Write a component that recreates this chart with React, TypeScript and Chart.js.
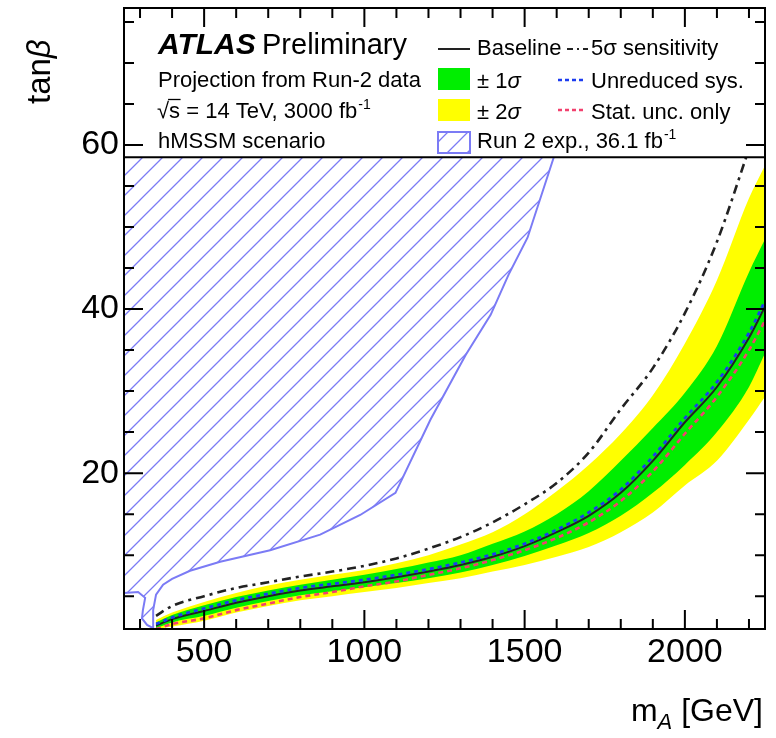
import React, { useEffect, useRef } from 'react';
import { Chart, registerables } from 'chart.js';

Chart.register(...registerables);

// ---------------- data ----------------
const MA = [350, 400, 500, 600, 700, 800, 900, 1000, 1100, 1200, 1300, 1400, 1500, 1600, 1700, 1800, 1900, 2000, 2100, 2200, 2250];
const BASELINE = [1.4, 2.2, 3.2, 4.2, 5.0, 5.7, 6.2, 6.7, 7.3, 8.0, 8.8, 9.8, 11.1, 12.8, 14.8, 17.6, 21.5, 26.2, 30.5, 36.5, 40.3];
const UNREDUCED_SYS = [1.6, 2.4, 3.5, 4.5, 5.3, 6.0, 6.5, 7.0, 7.6, 8.3, 9.1, 10.1, 11.4, 13.1, 15.2, 18.0, 22.0, 26.7, 31.1, 37.1, 41.0];
const STAT_ONLY = [1.0, 1.6, 2.3, 3.3, 4.1, 4.9, 5.5, 6.2, 6.8, 7.6, 8.4, 9.4, 10.6, 12.1, 14.0, 16.6, 20.2, 24.8, 29.3, 35.0, 38.6];
const SIGMA1_UP = [1.8, 2.7, 3.9, 4.9, 5.7, 6.4, 7.0, 7.6, 8.3, 9.1, 10.0, 11.4, 12.9, 15.0, 17.8, 21.5, 25.5, 29.8, 35.5, 44.5, 48.5];
const SIGMA1_DN = [1.1, 1.8, 2.6, 3.6, 4.4, 5.1, 5.6, 6.1, 6.6, 7.2, 7.9, 8.8, 9.9, 11.2, 12.7, 14.8, 17.6, 21.0, 25.0, 30.5, 34.6];
const SIGMA2_UP = [2.1, 3.0, 4.3, 5.4, 6.3, 7.0, 7.6, 8.2, 9.0, 10.0, 11.3, 12.8, 15.0, 17.8, 21.0, 24.8, 29.5, 35.8, 43.5, 53.5, 57.5];
const SIGMA2_DN = [1.0, 1.3, 2.0, 3.0, 3.8, 4.5, 5.0, 5.5, 6.0, 6.6, 7.2, 8.0, 8.8, 9.8, 11.0, 12.8, 15.2, 18.5, 21.5, 26.5, 29.3];

const FIVE_SIGMA_MA = [350, 400, 500, 600, 700, 800, 900, 1000, 1100, 1200, 1300, 1400, 1500, 1600, 1700, 1800, 1900, 2000, 2100, 2200];
const FIVE_SIGMA = [2.6, 3.8, 5.0, 6.0, 6.7, 7.4, 8.0, 8.7, 9.6, 10.8, 12.2, 14.0, 16.2, 18.8, 22.5, 27.8, 32.8, 39.5, 48.2, 59.5];

// Run 2 expected exclusion contour (36.1 fb-1), from the legend edge down to the left axis
const RUN2_MA = [1591, 1509, 1450, 1394, 1316, 1206, 1097, 987, 862, 706, 550, 456, 400, 372, 350, 341, 341, 322, 306, 309, 316, 294, 250];
const RUN2_TANB = [58.5, 48.7, 44.2, 39.3, 34.4, 26.5, 17.6, 14.9, 12.5, 10.6, 9.2, 8.1, 7.1, 6.4, 5.2, 3.3, 1.1, 1.5, 2.3, 3.3, 4.8, 5.5, 5.4];

const X_MIN = 250;
const X_MAX = 2250;
const Y_MIN = 1;
const Y_MAX = 76.7;
const LEGEND_FLOOR = 58.5;
const X_LABELS = [500, 1000, 1500, 2000];
const Y_LABELS = [20, 40, 60];
const X_MINOR = 100;
const Y_MINOR = 5;

// ---------------- style ----------------
const FONT = '"Liberation Sans", Arial, Helvetica, sans-serif';
const GREEN = '#00ee00';
const YELLOW = '#ffff00';
const HATCH = '#7b7bf5';
const BLUE = '#1c3cf0';
const RED = '#f2406e';
const DARK = '#222222';

function makeHatch(ctx: CanvasRenderingContext2D) {
  const s = 20;
  const c = document.createElement('canvas');
  c.width = s;
  c.height = s;
  const p = c.getContext('2d')!;
  p.strokeStyle = HATCH;
  p.lineWidth = 1.3;
  p.beginPath();
  p.moveTo(0, s);
  p.lineTo(s, 0);
  p.moveTo(-s / 2, s / 2);
  p.lineTo(s / 2, -s / 2);
  p.moveTo(s / 2, s + s / 2);
  p.lineTo(s + s / 2, s / 2);
  p.stroke();
  return ctx.createPattern(c, 'repeat')!;
}

function pts(xs: number[], ys: number[]) {
  return ys.map((v, i) => ({ x: xs[i], y: v }));
}

function textSup(ctx: CanvasRenderingContext2D, base: string, sup: string, x: number, y: number, size: number) {
  ctx.font = `${size}px ${FONT}`;
  ctx.fillText(base, x, y);
  const w = ctx.measureText(base).width;
  ctx.font = `${Math.round(size * 0.64)}px ${FONT}`;
  ctx.fillText(sup, x + w + 1, y - size * 0.42);
}

function makeLegendPlugin(hatch: CanvasPattern) {
  return {
    id: 'atlasLegend',
    afterDatasetsDraw(chart: any) {
      const { ctx, chartArea: a, scales } = chart;
      const yb = scales.y.getPixelForValue(LEGEND_FLOOR);
      ctx.save();
      ctx.fillStyle = '#fff';
      ctx.fillRect(a.left, a.top, a.right - a.left, yb - a.top);
      ctx.strokeStyle = '#000';
      ctx.lineWidth = 2;
      ctx.beginPath();
      ctx.moveTo(a.left, yb);
      ctx.lineTo(a.right, yb);
      ctx.stroke();

      ctx.fillStyle = '#000';
      ctx.textAlign = 'left';
      ctx.textBaseline = 'alphabetic';
      // left block
      ctx.font = `italic bold 30px ${FONT}`;
      ctx.fillText('ATLAS', 158, 54);
      ctx.font = `29px ${FONT}`;
      ctx.fillText('Preliminary', 262, 54);
      ctx.font = `22px ${FONT}`;
      ctx.fillText('Projection from Run-2 data', 158, 87);
      // sqrt(s)
      ctx.font = `22px ${FONT}`;
      ctx.fillText('\u221A', 157, 118);
      const wr = ctx.measureText('\u221A').width;
      const ws = ctx.measureText('s').width;
      ctx.lineWidth = 1.3;
      ctx.beginPath();
      ctx.moveTo(157 + wr - 1, 118 - 18.5);
      ctx.lineTo(157 + wr + ws + 0.5, 118 - 18.5);
      ctx.stroke();
      ctx.fillText('s', 157 + wr, 118);
      textSup(ctx, ' = 14 TeV, 3000 fb', '-1', 157 + wr + ws, 118, 22);
      ctx.font = `22px ${FONT}`;
      ctx.fillText('hMSSM scenario', 158, 148);

      // right block: samples
      const sx0 = 438;
      const sx1 = 470;
      ctx.strokeStyle = DARK;
      ctx.lineWidth = 2;
      ctx.beginPath();
      ctx.moveTo(sx0, 49);
      ctx.lineTo(sx1, 49);
      ctx.stroke();
      ctx.fillStyle = GREEN;
      ctx.fillRect(sx0, 68, sx1 - sx0, 22);
      ctx.fillStyle = YELLOW;
      ctx.fillRect(sx0, 99, sx1 - sx0, 22);
      ctx.fillStyle = hatch;
      ctx.fillRect(sx0, 132, sx1 - sx0, 21);
      ctx.strokeStyle = HATCH;
      ctx.lineWidth = 2;
      ctx.strokeRect(sx0, 132, sx1 - sx0, 21);

      const tx0 = 477;
      ctx.fillStyle = '#000';
      ctx.font = `22px ${FONT}`;
      ctx.fillText('Baseline', tx0, 55);
      ctx.fillText('\u00B1 1', tx0, 88);
      let w = ctx.measureText('\u00B1 1').width;
      ctx.font = `italic 22px ${FONT}`;
      ctx.fillText('\u03C3', tx0 + w, 88);
      ctx.font = `22px ${FONT}`;
      ctx.fillText('\u00B1 2', tx0, 119);
      w = ctx.measureText('\u00B1 2').width;
      ctx.font = `italic 22px ${FONT}`;
      ctx.fillText('\u03C3', tx0 + w, 119);
      textSup(ctx, 'Run 2 exp., 36.1 fb', '-1', tx0, 148, 22);

      // second column
      ctx.lineWidth = 2.2;
      ctx.strokeStyle = DARK;
      ctx.setLineDash([6, 4, 2, 4]);
      ctx.beginPath();
      ctx.moveTo(567, 49);
      ctx.lineTo(588, 49);
      ctx.stroke();
      ctx.lineWidth = 2.5;
      ctx.setLineDash([4, 3]);
      ctx.strokeStyle = BLUE;
      ctx.beginPath();
      ctx.moveTo(558, 80);
      ctx.lineTo(584, 80);
      ctx.stroke();
      ctx.strokeStyle = RED;
      ctx.beginPath();
      ctx.moveTo(558, 110);
      ctx.lineTo(584, 110);
      ctx.stroke();
      ctx.setLineDash([]);
      const tx1 = 591;
      ctx.fillStyle = '#000';
      ctx.font = `22px ${FONT}`;
      ctx.fillText('5\u03C3 sensitivity', tx1, 55);
      ctx.fillText('Unreduced sys.', tx1, 88);
      ctx.fillText('Stat. unc. only', tx1, 119);
      ctx.restore();
    },
  };
}

const framePlugin = {
  id: 'rootFrame',
  afterDraw(chart: any) {
    const { ctx, chartArea: a, scales } = chart;
    const x = scales.x;
    const y = scales.y;
    ctx.save();
    ctx.strokeStyle = '#000';
    ctx.lineWidth = 2;
    ctx.beginPath();
    for (let v = Math.ceil(x.min / X_MINOR) * X_MINOR; v <= x.max + 1e-6; v += X_MINOR) {
      const p = x.getPixelForValue(v);
      const len = v % 500 === 0 ? 19 : 10;
      ctx.moveTo(p, a.bottom);
      ctx.lineTo(p, a.bottom - len);
      ctx.moveTo(p, a.top);
      ctx.lineTo(p, a.top + len);
    }
    for (let v = Math.ceil(y.min / Y_MINOR) * Y_MINOR; v <= y.max + 1e-6; v += Y_MINOR) {
      const p = y.getPixelForValue(v);
      const len = v % 20 === 0 ? 19 : 10;
      ctx.moveTo(a.left, p);
      ctx.lineTo(a.left + len, p);
      ctx.moveTo(a.right, p);
      ctx.lineTo(a.right - len, p);
    }
    ctx.stroke();
    ctx.strokeRect(a.left, a.top, a.right - a.left, a.bottom - a.top);

    // axis titles
    ctx.fillStyle = '#000';
    ctx.textBaseline = 'alphabetic';
    ctx.textAlign = 'left';
    // x title: m_A [GeV], right aligned to the frame
    ctx.font = `32px ${FONT}`;
    const wm = ctx.measureText('m').width;
    const wg = ctx.measureText(' [GeV]').width;
    ctx.font = `italic 22px ${FONT}`;
    const wa = ctx.measureText('A').width;
    const xs = a.right - 2 - (wm + wa + wg);
    ctx.font = `32px ${FONT}`;
    ctx.fillText('m', xs, 721);
    ctx.font = `italic 22px ${FONT}`;
    ctx.fillText('A', xs + wm, 729);
    ctx.font = `32px ${FONT}`;
    ctx.fillText(' [GeV]', xs + wm + wa, 721);

    // y title: tan beta, rotated
    ctx.translate(50, 104);
    ctx.rotate(-Math.PI / 2);
    ctx.font = `33px ${FONT}`;
    ctx.fillText('tan', 0, 0);
    const wt = ctx.measureText('tan').width;
    ctx.font = `italic 33px ${FONT}`;
    ctx.fillText('\u03B2', wt, 0);
    ctx.restore();
  },
};

export default function App() {
  const ref = useRef<HTMLCanvasElement>(null);

  useEffect(() => {
    const canvas = ref.current!;
    const ctx = canvas.getContext('2d')!;
    const hatch = makeHatch(ctx);
    const base = {
      pointRadius: 0,
      pointHoverRadius: 0,
      pointHitRadius: 0,
      cubicInterpolationMode: 'monotone' as const,
    };
    const hidden = 'rgba(0,0,0,0)';
    const polygon = [{ x: X_MIN, y: LEGEND_FLOOR }, ...pts(RUN2_MA, RUN2_TANB)];

    const chart = new Chart(canvas, {
      type: 'line',
      data: {
        datasets: [
          // 0 hatch area
          {
            data: polygon,
            fill: 'shape',
            backgroundColor: hatch,
            borderColor: hidden,
            borderWidth: 0,
            pointRadius: 0,
            tension: 0,
            order: 10,
          } as any,
          // 1 hatch contour
          {
            data: pts(RUN2_MA, RUN2_TANB),
            fill: false,
            borderColor: HATCH,
            borderWidth: 2,
            pointRadius: 0,
            tension: 0,
            order: 9,
          },
          // 2 +2 sigma (filled to 3)
          { ...base, data: pts(MA, SIGMA2_UP), fill: 3, backgroundColor: YELLOW, borderColor: hidden, borderWidth: 0, order: 8 },
          // 3 -2 sigma
          { ...base, data: pts(MA, SIGMA2_DN), fill: false, borderColor: hidden, borderWidth: 0, order: 8 },
          // 4 +1 sigma (filled to 5)
          { ...base, data: pts(MA, SIGMA1_UP), fill: 5, backgroundColor: GREEN, borderColor: hidden, borderWidth: 0, order: 6 },
          // 5 -1 sigma
          { ...base, data: pts(MA, SIGMA1_DN), fill: false, borderColor: hidden, borderWidth: 0, order: 6 },
          // 6 5 sigma sensitivity
          { ...base, data: pts(FIVE_SIGMA_MA, FIVE_SIGMA), fill: false, borderColor: DARK, borderWidth: 2.6, borderDash: [9, 5, 3, 5], order: 4 },
          // 7 stat only
          { ...base, data: pts(MA, STAT_ONLY), fill: false, borderColor: RED, borderWidth: 2.6, borderDash: [5, 4], order: 3 },
          // 8 baseline
          { ...base, data: pts(MA, BASELINE), fill: false, borderColor: DARK, borderWidth: 2, order: 2 },
          // 9 unreduced sys
          { ...base, data: pts(MA, UNREDUCED_SYS), fill: false, borderColor: BLUE, borderWidth: 2.8, borderDash: [4, 4], order: 1 },
        ],
      },
      options: {
        animation: false,
        responsive: false,
        events: [],
        layout: { padding: { top: 8, right: 11, left: 0, bottom: 0 } },
        plugins: {
          legend: { display: false },
          tooltip: { enabled: false },
          title: { display: false },
        },
        scales: {
          x: {
            type: 'linear',
            min: X_MIN,
            max: X_MAX,
            grid: { display: false, drawTicks: false },
            border: { display: false },
            afterBuildTicks: (s: any) => {
              s.ticks = X_LABELS.map((v) => ({ value: v }));
            },
            ticks: {
              autoSkip: false,
              maxRotation: 0,
              padding: 3,
              color: '#000',
              font: { family: FONT, size: 34 },
              callback: (v: any) => String(v),
            },
            afterFit: (s: any) => {
              s.height = 109;
              s.paddingLeft = 0;
              s.paddingRight = 0;
            },
          },
          y: {
            type: 'linear',
            min: Y_MIN,
            max: Y_MAX,
            grid: { display: false, drawTicks: false },
            border: { display: false },
            afterBuildTicks: (s: any) => {
              s.ticks = Y_LABELS.map((v) => ({ value: v }));
            },
            ticks: {
              autoSkip: false,
              padding: 5,
              color: '#000',
              font: { family: FONT, size: 34 },
              callback: (v: any) => String(v),
            },
            afterFit: (s: any) => {
              s.width = 124;
              s.paddingTop = 0;
              s.paddingBottom = 0;
            },
          },
        },
      },
      plugins: [makeLegendPlugin(hatch), framePlugin],
    } as any);
    return () => chart.destroy();
  }, []);

  return (
    <div style={{ position: 'absolute', left: 0, top: 0, width: 776, height: 738, background: '#fff' }}>
      <canvas ref={ref} width={776} height={738} style={{ display: 'block' }} />
    </div>
  );
}
